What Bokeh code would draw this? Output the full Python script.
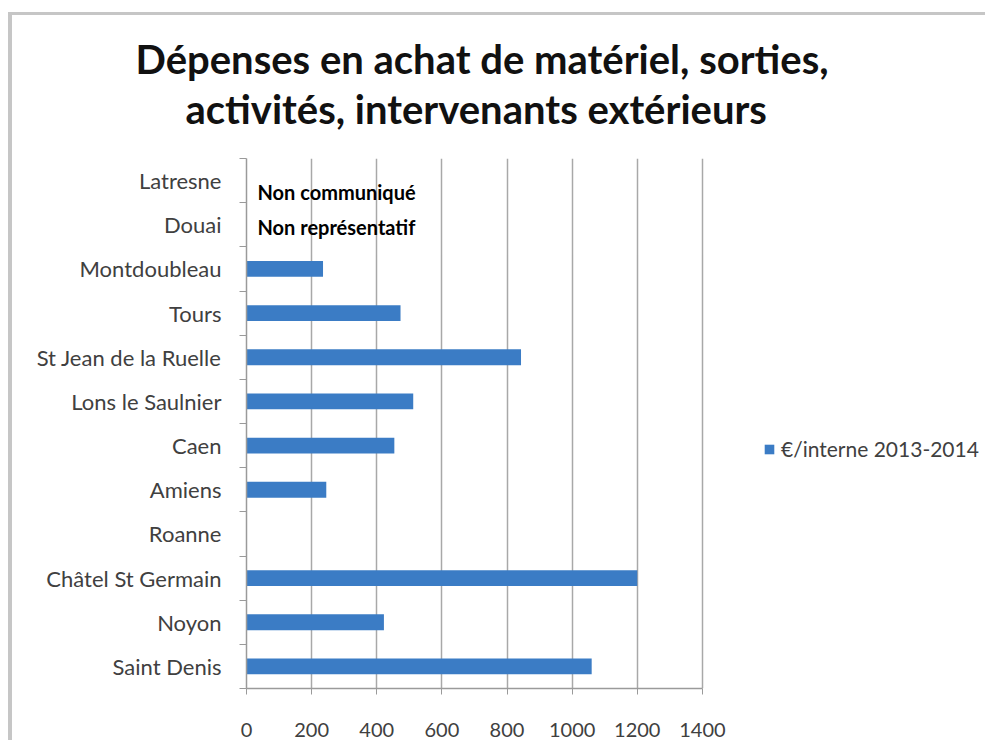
from bokeh.plotting import figure
from bokeh.models import Range1d, FixedTicker, Title, Legend, LegendItem, ColumnDataSource
from bokeh.core.properties import value
from bokeh.embed import file_html
from bokeh.resources import INLINE

NaN = float("nan")

# ---- data (top to bottom as shown) ----
categories = ["Latresne", "Douai", "Montdoubleau", "Tours", "St Jean de la Ruelle",
              "Lons le Saulnier", "Caen", "Amiens", "Roanne", "Châtel St Germain",
              "Noyon", "Saint Denis"]
values = [NaN, NaN, 235, 473, 843, 512, 454, 245, NaN, 1200, 422, 1060]
x_ticks = [0, 200, 400, 600, 800, 1000, 1200, 1400]
series_name = "€/interne 2013-2014"
note_categories = ["Latresne", "Douai"]
note_texts = ["Non communiqué", "Non représentatif"]
title_lines = ["Dépenses en achat de matériel, sorties,",
               "activités, intervenants extérieurs"]

FONT = "Lato"
n = len(categories)
ypos = [n - 1 - i + 0.5 for i in range(n)]
ymap = dict(zip(categories, ypos))

src = ColumnDataSource(dict(y=ypos, value=values, name=categories))

# frame is wider than the axis so that the legend can sit inside it (right side)
X_VIEW_END = 2254
p = figure(width=985, height=740, x_range=Range1d(0, X_VIEW_END), y_range=Range1d(0, n),
           output_backend="svg", toolbar_location=None, title=None,
           min_border_left=246, min_border_right=5, min_border_top=158,
           min_border_bottom=52)
p.outline_line_color = None
p.border_fill_alpha = 0
# light grey chart-area border (top and left edges, as in the picture)
p.styles = {
    "background": ("linear-gradient(#c6c6c6,#c6c6c6) 9px 12px / calc(100% - 9px) 3px no-repeat, "
                   "linear-gradient(#c6c6c6,#c6c6c6) 8px 12px / 4px calc(100% - 12px) no-repeat, #ffffff"),
}

# titles, stacked upward from the frame: spacer, line 2, line 1
spacer = Title(text=" ", text_font=FONT, text_font_size="10px", standoff=12)
t2 = Title(text=title_lines[1], align="left", offset=-61, vertical_align="bottom",
           text_font=FONT, text_font_size="40px", text_font_style="bold",
           text_color="#111111", standoff=0)
t1 = Title(text=title_lines[0], align="left", offset=-111, vertical_align="bottom",
           text_font=FONT, text_font_size="40px", text_font_style="bold",
           text_color="#111111", standoff=0)
p.add_layout(spacer, "above")
p.add_layout(t2, "above")
p.add_layout(t1, "above")

bars = p.hbar(y="y", right="value", left=0, height=0.36, source=src,
              fill_color="#3b7cc5", line_color=None)

# notes
p.text(x=[0] * len(note_categories), y=[ymap[c] for c in note_categories], text=note_texts,
       x_offset=11, y_offset=[11, 2], text_font=value(FONT), text_font_style="bold",
       text_font_size="20px", text_baseline="middle", text_align="left", text_color="#000000")

# grid
p.ygrid.grid_line_color = None
p.xgrid.grid_line_color = "#a8a8a8"
p.xgrid.grid_line_width = 1.5
p.xgrid.ticker = FixedTicker(ticks=x_ticks)

# x axis
xa = p.xaxis[0]
xa.ticker = FixedTicker(ticks=x_ticks)
xa.bounds = (x_ticks[0], x_ticks[-1])
xa.axis_line_color = "#9a9a9a"
xa.axis_line_width = 1.5
xa.major_tick_line_color = "#9a9a9a"
xa.major_tick_out = 6
xa.major_tick_in = 0
xa.minor_tick_line_color = None
xa.major_label_standoff = 28
xa.major_label_text_font = FONT
xa.major_label_text_font_size = "20px"
xa.major_label_text_color = "#404040"

# y axis
ya = p.yaxis[0]
ya.ticker = FixedTicker(ticks=ypos, minor_ticks=list(range(n + 1)))
ya.major_label_overrides = {y: c for y, c in zip(ypos, categories)}
ya.axis_line_color = "#9a9a9a"
ya.axis_line_width = 1.5
ya.major_tick_out = 0
ya.major_tick_in = 0
ya.major_tick_line_color = None
ya.minor_tick_out = 7
ya.minor_tick_in = 0
ya.minor_tick_line_color = "#9a9a9a"
ya.major_label_standoff = 18
ya.major_label_text_font = FONT
ya.major_label_text_font_size = "22px"
ya.major_label_text_color = "#404040"

legend = Legend(items=[LegendItem(label=series_name, renderers=[bars])],
                location=(517, 227), padding=0, margin=0, spacing=0,
                glyph_width=12, glyph_height=12, label_standoff=6,
                label_text_font=FONT, label_text_font_size="21px",
                label_text_color="#404040", border_line_color=None,
                background_fill_alpha=0)
p.add_layout(legend, "center")

open("out.html", "w").write(file_html(p, INLINE))
